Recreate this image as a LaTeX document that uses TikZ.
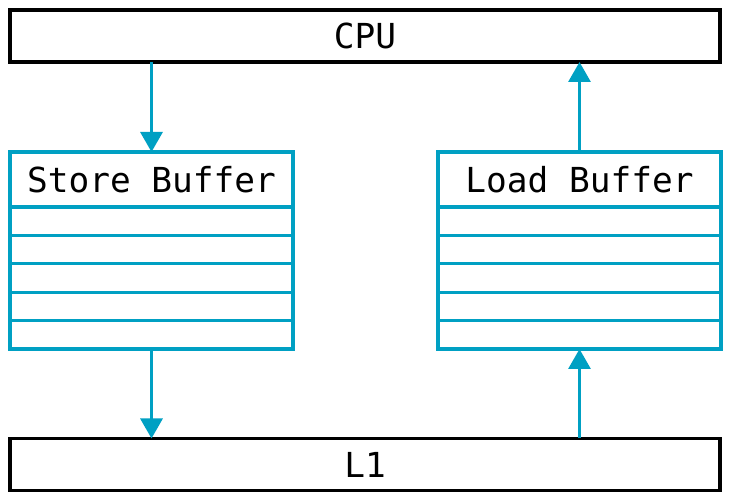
\documentclass[tikz,border=0pt]{standalone}
\usepackage{fontspec}
\setmonofont{DejaVu Sans Mono}
\usetikzlibrary{arrows.meta}
\definecolor{bufcol}{RGB}{0,160,195}

\begin{document}
\begin{tikzpicture}[font=\ttfamily\fontsize{24.5}{29}\selectfont,
	level/.style={draw=black,line width=2.6pt,minimum width=17.75cm,
	minimum height=1.3cm,inner sep=0pt,outer sep=0pt},
	bufhead/.style={draw=bufcol,line width=2.3pt,minimum width=7.075cm,
	minimum height=1.375cm,inner sep=0pt,outer sep=0pt},
	row/.style={draw=bufcol,line width=2pt},
	flow/.style={draw=bufcol,line width=2.2pt,-{Triangle[width=0.55cm,length=0.5cm]}}]
    \useasboundingbox (0,0) rectangle (18.325,12.5);
    \node[level] (cpu) at (9.125,11.6) {CPU};
    \node[level] (l1) at (9.125,0.8875) {L1};
    \node[bufhead] (store) at (3.7875,8.0125) {Store Buffer};
    \node[bufhead] (load) at (14.4875,8.0125) {Load Buffer};
    % five empty slots under each head
    \foreach \buf in {store,load}{
        \foreach \i in {0,...,4}
            \draw[row] ([yshift=-\i*0.71cm]\buf.south west) rectangle ++(7.075,-0.71);
        \draw[draw=bufcol,line width=2.3pt] (\buf.south west) rectangle ++(7.075,-3.55);
        \coordinate (\buf-end) at ([yshift=-3.55cm]\buf.south);
    }
    \draw[flow] (cpu.south -| store.north) -- (store.north);
    \draw[flow] (store-end) -- (l1.north -| store-end);
    \draw[flow] (l1.north -| load-end) -- (load-end);
    \draw[flow] (load.north) -- (cpu.south -| load.north);
\end{tikzpicture}
\end{document}
